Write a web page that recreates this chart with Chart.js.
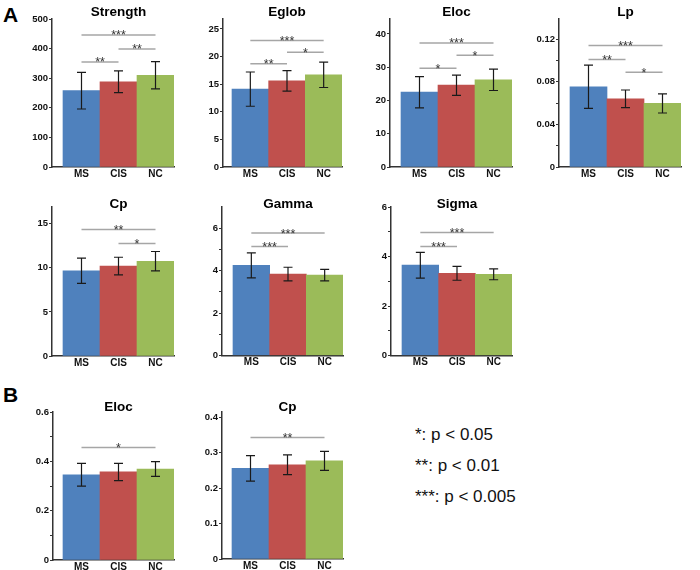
<!DOCTYPE html>
<html>
<head>
<meta charset="utf-8">
<script src="https://cdn.jsdelivr.net/npm/chart.js@4.4.1/dist/chart.umd.min.js"></script>
<style>
  body { margin: 0; background: #fff; }
  #wrap { position: relative; width: 700px; height: 570px; overflow: hidden; font-family: "Liberation Sans", Arial, sans-serif; }
  #wrap canvas { position: absolute; }
  .letter { position: absolute; font-weight: bold; font-size: 21px; line-height: 1; color: #000; }
  .note { position: absolute; left: 415px; font-size: 17px; line-height: 1; color: #111; white-space: nowrap; }
</style>
</head>
<body>
<div id="wrap">
  <div class="letter" style="left:3px;top:4px">A</div>
  <div class="letter" style="left:3px;top:384px">B</div>
  <div class="note" style="top:426px">*: p &lt; 0.05</div>
  <div class="note" style="top:457px">**: p &lt; 0.01</div>
  <div class="note" style="top:488px">***: p &lt; 0.005</div>
</div>
<script>
const groups = ['MS', 'CIS', 'NC'];
const barColors = ['#4f81bd', '#c0504d', '#9bbb59'];

const panelTitles = ['Strength', 'Eglob', 'Eloc', 'Lp', 'Cp', 'Gamma', 'Sigma', 'Eloc', 'Cp'];

// group means, one row per panel
const meanValues = [
  [258, 288, 310],
  [14.1, 15.6, 16.7],
  [22.5, 24.6, 26.2],
  [0.0753, 0.064, 0.0597],
  [9.66, 10.2, 10.75],
  [4.25, 3.84, 3.79],
  [3.65, 3.32, 3.28],
  [0.3455, 0.357, 0.369],
  [0.256, 0.266, 0.277]
];
// error bar half widths
const errValues = [
  [62, 37, 46],
  [3.1, 1.85, 2.3],
  [4.7, 3.05, 3.2],
  [0.0203, 0.0083, 0.009],
  [1.43, 1.0, 1.1],
  [0.59, 0.32, 0.27],
  [0.52, 0.28, 0.22],
  [0.046, 0.035, 0.03],
  [0.036, 0.028, 0.027]
];

const yMaxValues = [500, 26.8, 44.5, 0.139, 16.9, 7, 6, 0.6, 0.415];
const yTickValues = [
  [0, 100, 200, 300, 400, 500],
  [0, 5, 10, 15, 20, 25],
  [0, 10, 20, 30, 40],
  [0, 0.02, 0.04, 0.06, 0.08, 0.1, 0.12],
  [0, 5, 10, 15],
  [0, 1, 2, 3, 4, 5, 6],
  [0, 1, 2, 3, 4, 5, 6],
  [0, 0.1, 0.2, 0.3, 0.4, 0.5, 0.6],
  [0, 0.1, 0.2, 0.3, 0.4]
];
const yTickLabels = [
  ['0', '100', '200', '300', '400', '500'],
  ['0', '5', '10', '15', '20', '25'],
  ['0', '10', '20', '30', '40'],
  ['0', '', '0.04', '', '0.08', '', '0.12'],
  ['0', '5', '10', '15'],
  ['0', '', '2', '', '4', '', '6'],
  ['0', '', '2', '', '4', '', '6'],
  ['0', '', '0.2', '', '0.4', '', '0.6'],
  ['0', '0.1', '0.2', '0.3', '0.4']
];

// significance brackets: [from group, to group, height, stars]
const sigMarks = [
  [[0, 1, 355, '**'], [1, 2, 399, '**'], [0, 2, 446, '***']],
  [[0, 1, 18.7, '**'], [1, 2, 20.8, '*'], [0, 2, 22.9, '***']],
  [[0, 1, 29.7, '*'], [1, 2, 33.6, '*'], [0, 2, 37.3, '***']],
  [[0, 1, 0.101, '**'], [1, 2, 0.0889, '*'], [0, 2, 0.114, '***']],
  [[0, 2, 14.36, '**'], [1, 2, 12.77, '*']],
  [[0, 1, 5.14, '***'], [0, 2, 5.77, '***']],
  [[0, 1, 4.40, '***'], [0, 2, 4.97, '***']],
  [[0, 2, 0.456, '*']],
  [[0, 2, 0.343, '**']]
];

// page layout: rows [top, height, title baseline]
const rows = [[0, 188, 15.5], [190, 182, 208], [385, 185, 410.5]];
// panels: [y axis x, first bar left, last bar right, top of axis, zero line, row]
const boxes = [
  [52, 63, 174, 19, 167, 0],
  [223, 232, 342, 19, 167, 0],
  [390, 401, 512, 19, 167, 0],
  [559, 570, 681, 19, 167, 0],
  [52, 63, 174, 207, 356, 1],
  [222, 233, 343, 207, 355.5, 1],
  [391, 402, 512, 207, 355.5, 1],
  [53, 63, 174, 412, 560, 2],
  [222, 232, 343, 412, 559, 2]
];

const FONT = '"Liberation Sans", Arial, sans-serif';

const panelDecor = {
  id: 'panelDecor',
  afterDatasetsDraw(chart, args, opts) {
    const p = opts.panel;
    const ctx = chart.ctx;
    const xs = chart.scales.x, ys = chart.scales.y;
    ctx.save();
    // error bars
    ctx.strokeStyle = '#1a1a1a';
    ctx.lineWidth = 1.2;
    meanValues[p].forEach((m, i) => {
      const x = xs.getPixelForValue(i + 1);
      const top = ys.getPixelForValue(m + errValues[p][i]);
      const bot = ys.getPixelForValue(m - errValues[p][i]);
      ctx.beginPath();
      ctx.moveTo(x, top); ctx.lineTo(x, bot);
      ctx.moveTo(x - 4.5, top); ctx.lineTo(x + 4.5, top);
      ctx.moveTo(x - 4.5, bot); ctx.lineTo(x + 4.5, bot);
      ctx.stroke();
    });
    // significance lines
    sigMarks[p].forEach(([a, b, h, stars]) => {
      const x1 = xs.getPixelForValue(a + 1);
      const x2 = xs.getPixelForValue(b + 1);
      const y = ys.getPixelForValue(h);
      ctx.strokeStyle = '#a6a6a6';
      ctx.lineWidth = 1.5;
      ctx.beginPath();
      ctx.moveTo(x1, y); ctx.lineTo(x2, y);
      ctx.stroke();
      ctx.fillStyle = '#333';
      ctx.font = '12.5px ' + FONT;
      ctx.textAlign = 'center';
      ctx.textBaseline = 'alphabetic';
      ctx.fillText(stars, (x1 + x2) / 2, y + 4.5);
    });
    // title
    ctx.fillStyle = '#000';
    ctx.font = 'bold 13.5px ' + FONT;
    ctx.textAlign = 'center';
    ctx.textBaseline = 'alphabetic';
    ctx.fillText(panelTitles[p], xs.getPixelForValue(2), opts.titleY);
    ctx.restore();
  }
};

const wrap = document.getElementById('wrap');

boxes.forEach((b, p) => {
  const [axisX, barsL, barsR, axisTop, zeroY, r] = b;
  const [rowTop, rowH, titleBase] = rows[r];
  const left = axisX - 40;
  const W = barsR - left + 4;
  const H = rowH;
  const canvas = document.createElement('canvas');
  canvas.width = W;
  canvas.height = H;
  canvas.style.left = left + 'px';
  canvas.style.top = rowTop + 'px';
  wrap.appendChild(canvas);

  const unit = (barsR - barsL) / 3;
  const xMin = 0.5 - (barsL - axisX) / unit;

  new Chart(canvas, {
    type: 'bar',
    data: {
      datasets: [{
        data: groups.map((g, i) => ({ x: i + 1, y: meanValues[p][i] })),
        backgroundColor: barColors,
        borderWidth: 0,
        categoryPercentage: 1,
        barPercentage: 1
      }]
    },
    options: {
      responsive: false,
      animation: false,
      layout: { padding: { top: axisTop - rowTop, right: 4, left: 0, bottom: 0 } },
      plugins: {
        legend: { display: false },
        tooltip: { enabled: false },
        title: { display: false },
        panelDecor: { panel: p, titleY: titleBase - rowTop }
      },
      scales: {
        x: {
          type: 'linear',
          min: xMin,
          max: 3.5,
          offset: false,
          afterBuildTicks: s => { s.ticks = groups.map((g, i) => ({ value: i + 1 })); },
          afterFit: s => { s.height = H - (zeroY - rowTop); },
          grid: { display: false, drawTicks: false, offset: false },
          border: { display: true, color: '#333', width: 1.5 },
          ticks: {
            callback: v => groups[v - 1],
            font: { family: FONT, size: 10, weight: 'bold' },
            color: '#111',
            padding: 1,
            autoSkip: false,
            maxRotation: 0,
            minRotation: 0
          }
        },
        y: {
          min: 0,
          max: yMaxValues[p],
          afterBuildTicks: s => { s.ticks = yTickValues[p].map(v => ({ value: v })); },
          afterFit: s => { s.width = 40; },
          grid: { drawOnChartArea: false, drawTicks: true, tickLength: 3, color: '#333', lineWidth: 1 },
          border: { display: true, color: '#333', width: 1.5 },
          ticks: {
            callback: (v, i) => yTickLabels[p][i],
            font: { family: FONT, size: 9.5, weight: 'bold' },
            color: '#111',
            padding: 1
          }
        }
      }
    },
    plugins: [panelDecor]
  });
});
</script>
</body>
</html>
